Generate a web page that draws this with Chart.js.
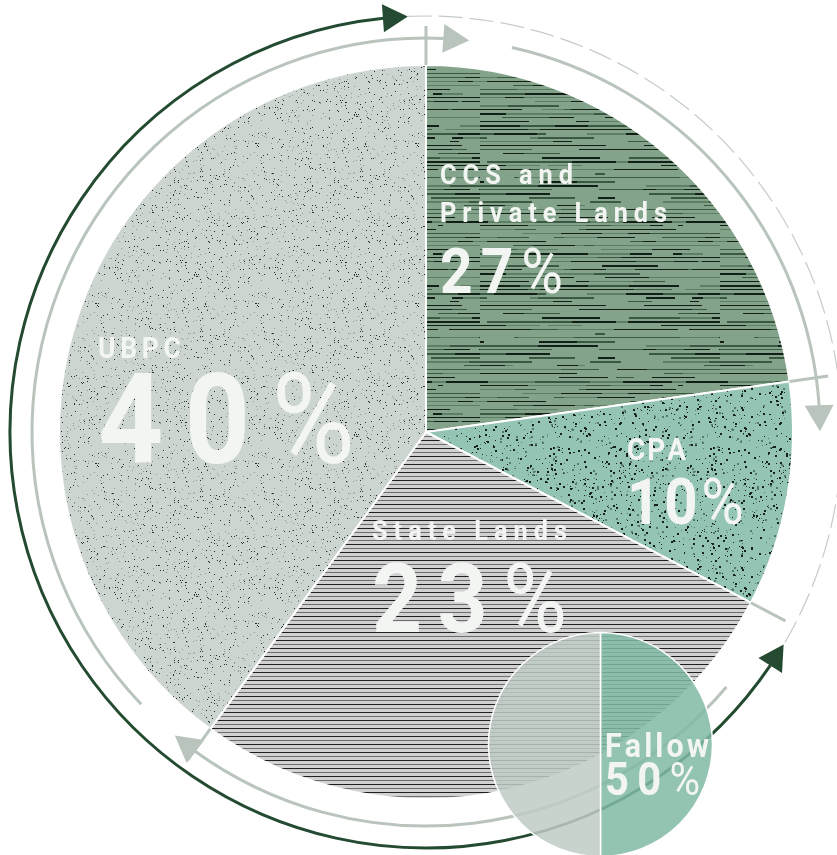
<!DOCTYPE html>
<html><head><meta charset="utf-8">
<script src="https://cdn.jsdelivr.net/npm/chart.js@4/dist/chart.umd.min.js"></script>
<style>
html,body{margin:0;padding:0;background:#fff;overflow:hidden;width:837px;height:855px}
#main{position:absolute;left:0;top:0}
#small{position:absolute;left:487px;top:631px}
</style></head><body>
<canvas id="main" width="837" height="855"></canvas>
<canvas id="small" width="227" height="227"></canvas>
<script>
// ---------------- data ----------------
const categories = ['CCS and Private Lands', 'CPA', 'State Lands', 'UBPC'];
const categoryLines = [['CCS and', 'Private Lands'], ['CPA'], ['State Lands'], ['UBPC']];
const labelPercents = [27, 10, 23, 40];          // values printed on the chart
const sliceShares = [22.8, 9.9, 27.3, 40.0];     // slice sizes as drawn in the picture
const fallowCategories = ['Fallow', ''];
const fallowLabelPercents = [50];
const fallowShares = [50, 50];

// ---------------- textures ----------------
function rng(seed){return function(){seed|=0;seed=seed+0x6D2B79F5|0;let t=Math.imul(seed^seed>>>15,1|seed);t=t+Math.imul(t^t>>>7,61|t)^t;return((t^t>>>14)>>>0)/4294967296;};}
function makeTile(w,h,draw){const c=document.createElement('canvas');c.width=w;c.height=h;draw(c.getContext('2d'),w,h);return c;}
const mainCanvas=document.getElementById('main');
const mctx=mainCanvas.getContext('2d');
const pat=t=>mctx.createPattern(t,'repeat');

const texUBPC=makeTile(160,160,(g,w,h)=>{const r=rng(11);g.fillStyle='#ccd5d0';g.fillRect(0,0,w,h);
  for(let i=0;i<1050;i++){const x=Math.floor(r()*w),y=Math.floor(r()*h);g.fillStyle=r()<0.45?'#27302b':'#8e9893';g.fillRect(x,y,1,1);}});
const texCPA=makeTile(160,160,(g,w,h)=>{const r=rng(23);g.fillStyle='#94c4b4';g.fillRect(0,0,w,h);
  for(let i=0;i<950;i++){const x=Math.floor(r()*w),y=Math.floor(r()*h);const p=r();g.fillStyle=p<0.65?'#17211c':'#587a6e';const s=r()<0.4?2:1;g.fillRect(x,y,s,s);}});
const texCCS=makeTile(240,160,(g,w,h)=>{const r=rng(7);g.fillStyle='#83a48b';g.fillRect(0,0,w,h);
  for(let y=1;y<h;y+=4){let x=0;const th=r()<0.3?2:1;while(x<w){const len=4+Math.floor(r()*55);const p=r();
    if(p<0.42)g.fillStyle='#131e16';else if(p<0.62)g.fillStyle='#3b5942';else if(p<0.78)g.fillStyle='#5e7f66';else{x+=len;continue;}
    g.fillRect(x,y,len,th);x+=len;}}});
const texState=makeTile(8,8,(g,w,h)=>{g.fillStyle='#d1d1d1';g.fillRect(0,0,w,h);g.fillStyle='#1f1f1f';g.fillRect(0,0,w,1);g.fillStyle='#6d6d6d';g.fillRect(0,4,w,1);});

const sliceFills=[pat(texCCS),pat(texCPA),pat(texState),pat(texUBPC)];

// ---------------- styles / layout ----------------
const LIGHT='#b8c4bc', DARK='#244b31', TEXT='#f3f5f3', FONT='Roboto, "DejaVu Sans", sans-serif';
const SX=0.9; // horizontal condensing of glyphs
const deg=Math.PI/180;
// light arrows: slice index, start offset after slice start, tip offset after slice end (degrees)
const lightArrows=[{slice:0,from:12.6,to:7.8},{slice:2,from:12.6,to:3.6},{slice:3,from:10.3,to:6.3}];
const labelLayout=[
  {x:440,lines:[{base:184,cap:20,w:133},{base:222,cap:20,w:227}],pct:{base:293,cap:45,w:123}},
  {x:627,lines:[{base:460,cap:22,w:59}],pct:{base:524,cap:46,w:117}},
  {x:372,lines:[{base:540,cap:20,w:195}],pct:{base:632,cap:69,w:195}},
  {x:98,lines:[{base:358,cap:21,w:83}],pct:{base:463,cap:90,w:257}}
];
const fallowLayout={x:118,lines:[{base:126,cap:24,w:104}],pct:{base:164,cap:33,w:95}};

function drawRuns(ctx,runs,x,baseline,target){
  const chars=[];
  runs.forEach(r=>{ctx.font=r.font;for(const ch of r.text){chars.push({ch,font:r.font,w:ctx.measureText(ch).width*SX});}});
  const sum=chars.reduce((s,c)=>s+c.w,0);
  const sp=chars.length>1?(target-sum)/(chars.length-1):0;
  let cx=x;
  chars.forEach(c=>{ctx.font=c.font;ctx.save();ctx.translate(cx,baseline);ctx.scale(SX,1);ctx.fillText(c.ch,0,0);ctx.restore();cx+=c.w+sp;});
}
function drawLabel(ctx,lines,pct,lay){
  ctx.save();ctx.fillStyle=TEXT;ctx.textBaseline='alphabetic';ctx.textAlign='left';
  lines.forEach((t,i)=>{const L=lay.lines[i];const fs=L.cap/0.711;
    drawRuns(ctx,[{text:t,font:`700 ${fs}px ${FONT}`}],lay.x,L.base,L.w);});
  const P=lay.pct,fs=P.cap/0.711;
  drawRuns(ctx,[{text:String(pct),font:`700 ${fs}px ${FONT}`},{text:'%',font:`400 ${fs}px ${FONT}`}],lay.x,P.base,P.w);
  ctx.restore();
}
function head(ctx,cx,cy,r,aTip,dir,len,hw,color){
  const aBase=aTip-dir*len/r;
  const tx=cx+r*Math.cos(aTip),ty=cy+r*Math.sin(aTip);
  const bx=cx+r*Math.cos(aBase),by=cy+r*Math.sin(aBase);
  let dx=tx-bx,dy=ty-by;const d=Math.hypot(dx,dy);dx/=d;dy/=d;
  ctx.beginPath();ctx.moveTo(tx,ty);ctx.lineTo(bx-dy*hw,by+dx*hw);ctx.lineTo(bx+dy*hw,by-dx*hw);ctx.closePath();
  ctx.fillStyle=color;ctx.fill();
  return aBase;
}

const decorPlugin={
  id:'decor',
  afterDatasetsDraw(chart){
    const ctx=chart.ctx,arcs=chart.getDatasetMeta(0).data;
    const cx=arcs[0].x,cy=arcs[0].y,R=arcs[0].outerRadius;
    const rA=R+27,rD=R+49;
    ctx.save();ctx.lineCap='butt';
    // boundary ticks
    ctx.strokeStyle=LIGHT;ctx.lineWidth=3;
    arcs.forEach(a=>{const t=a.startAngle;ctx.beginPath();ctx.moveTo(cx+R*Math.cos(t),cy+R*Math.sin(t));ctx.lineTo(cx+(R+39)*Math.cos(t),cy+(R+39)*Math.sin(t));ctx.stroke();});
    // light arrows
    lightArrows.forEach(s=>{const a=arcs[s.slice];const a0=a.startAngle+s.from*deg,aT=a.endAngle+s.to*deg;
      const aB=head(ctx,cx,cy,rA,aT,1,26,14.5,LIGHT);
      ctx.strokeStyle=LIGHT;ctx.lineWidth=3;ctx.beginPath();ctx.arc(cx,cy,rA,a0,aB+0.5/rA);ctx.stroke();});
    // dark double-headed arc
    const dStart=arcs[1].endAngle+3.0*deg, dEnd=arcs[3].endAngle-2.5*deg;
    const b1=head(ctx,cx,cy,rD,dStart,-1,25,14,DARK);
    const b2=head(ctx,cx,cy,rD,dEnd,1,25,14,DARK);
    ctx.strokeStyle=DARK;ctx.lineWidth=3;ctx.beginPath();ctx.arc(cx,cy,rD,b1-0.5/rD,b2+0.5/rD);ctx.stroke();
    // dashed remainder
    ctx.strokeStyle='#c4ccc7';ctx.lineWidth=1.2;ctx.setLineDash([24,7]);
    ctx.beginPath();ctx.arc(cx,cy,rD,dEnd,dStart+2*Math.PI);ctx.stroke();
    ctx.restore();
  },
  afterDraw(chart){
    const ctx=chart.ctx;
    categoryLines.forEach((lines,i)=>drawLabel(ctx,lines,labelPercents[i],labelLayout[i]));
  }
};

new Chart(mainCanvas,{
  type:'pie',
  data:{labels:categories,datasets:[{data:sliceShares,backgroundColor:sliceFills,borderColor:'#ffffff',borderWidth:2,radius:367,hoverOffset:0}]},
  options:{responsive:false,animation:false,devicePixelRatio:1,events:[],
    layout:{padding:{left:15,top:9,right:0,bottom:0}},
    plugins:{legend:{display:false},tooltip:{enabled:false}}},
  plugins:[decorPlugin]
});

const fallowPlugin={id:'fallowLabels',afterDraw(chart){drawLabel(chart.ctx,[fallowCategories[0]],fallowLabelPercents[0],fallowLayout);}};
new Chart(document.getElementById('small'),{
  type:'pie',
  data:{labels:fallowCategories,datasets:[{data:fallowShares,backgroundColor:['rgba(128,186,165,0.85)','rgba(192,203,197,0.85)'],borderColor:'#ffffff',borderWidth:1.5,radius:112,hoverOffset:0}]},
  options:{responsive:false,animation:false,devicePixelRatio:1,events:[],layout:{padding:0},
    plugins:{legend:{display:false},tooltip:{enabled:false}}},
  plugins:[fallowPlugin]
});
</script>
</body></html>
